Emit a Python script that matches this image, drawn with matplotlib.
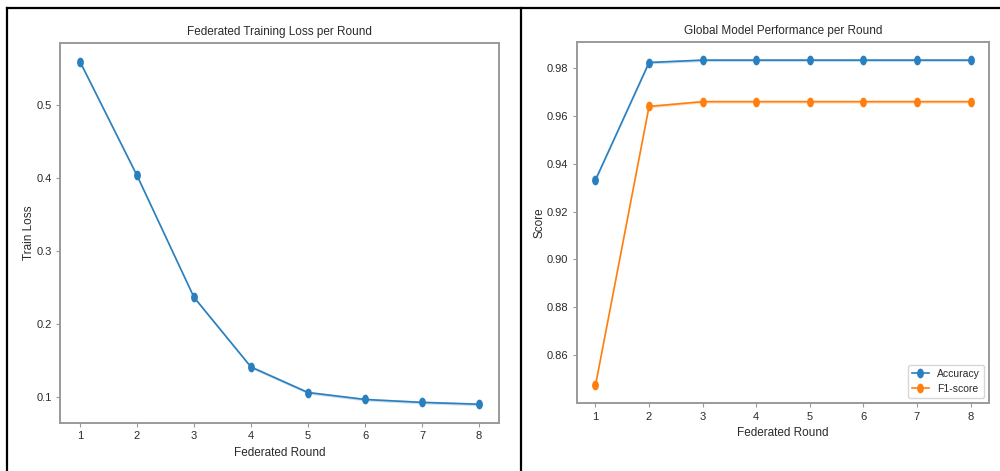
import numpy as np
import matplotlib
matplotlib.use("Agg")
import matplotlib.pyplot as plt
from matplotlib.path import Path
from matplotlib.transforms import Affine2D
from matplotlib.lines import Line2D

plt.rcParams["font.family"] = ["DejaVu Sans Condensed", "Liberation Sans", "DejaVu Sans"]

# data
rounds = [1, 2, 3, 4, 5, 6, 7, 8]
train_loss = [0.559, 0.403, 0.236, 0.1405, 0.1055, 0.096, 0.092, 0.0895]
loss_band = [0.002, 0.002, 0.002, 0.002, 0.002, 0.002, 0.002, 0.002]
accuracy = [0.9333, 0.9825, 0.9835, 0.9835, 0.9835, 0.9835, 0.9835, 0.9835]
acc_band = [0.0006, 0.0006, 0.0006, 0.0006, 0.0006, 0.0006, 0.0006, 0.0006]
f1_score = [0.8472, 0.9641, 0.9661, 0.9661, 0.9661, 0.9661, 0.9661, 0.9661]
f1_band = [0.0006, 0.0006, 0.0006, 0.0006, 0.0006, 0.0006, 0.0006, 0.0006]

blue = "#2a7fbf"
orange = "#ff7f0e"
txt = "#2a2a2a"
spine_c = "#9a9a9a"

# squashed circle marker (the reference is horizontally compressed)
circ = Path.unit_circle()
ell = Affine2D().scale(0.65, 1.0).transform_path(circ)

fig = plt.figure(figsize=(10, 4.71), dpi=100)
ax1 = fig.add_axes([0.060, 0.102, 0.439, 0.807])
ax2 = fig.add_axes([0.5767, 0.1437, 0.4126, 0.7665])


def style(ax):
    for s in ax.spines.values():
        s.set_color(spine_c)
        s.set_linewidth(1.4)
    ax.tick_params(colors=spine_c, labelcolor=txt, labelsize=8, length=3, pad=3)


def draw(ax, y, band, color, label=None):
    y = np.array(y)
    band = np.array(band)
    ax.fill_between(rounds, y - band, y + band, color=color, alpha=0.25, lw=0)
    ax.plot(rounds, y, color=color, lw=1.2, marker=ell, markersize=6, label=label)


draw(ax1, train_loss, loss_band, blue)
style(ax1)
ax1.set_xticks(rounds)
ax1.set_yticks([0.1, 0.2, 0.3, 0.4, 0.5])
ax1.set_title("Federated Training Loss per Round", fontsize=8.5, color=txt, pad=6)
ax1.set_xlabel("Federated Round", fontsize=8.5, color=txt)
ax1.set_ylabel("Train Loss", fontsize=8.5, color=txt, labelpad=1)

draw(ax2, accuracy, acc_band, blue, "Accuracy")
draw(ax2, f1_score, f1_band, orange, "F1-score")
style(ax2)
ax2.set_xticks(rounds)
ax2.set_yticks([0.86, 0.88, 0.90, 0.92, 0.94, 0.96, 0.98])
ax2.set_title("Global Model Performance per Round", fontsize=8.5, color=txt, pad=6)
ax2.set_xlabel("Federated Round", fontsize=8.5, color=txt)
ax2.set_ylabel("Score", fontsize=8.5, color=txt, labelpad=1)
leg = ax2.legend(loc="lower right", fontsize=7.5, labelcolor=txt, handlelength=1.6)
leg.get_frame().set_edgecolor("#cccccc")

# screenshot frame lines
fig.add_artist(Line2D([0.007, 1.0], [0.983, 0.983], color="black", lw=1.6))
fig.add_artist(Line2D([0.007, 0.007], [0.0, 0.983], color="black", lw=1.6))
fig.add_artist(Line2D([0.5205, 0.5205], [0.0, 0.983], color="black", lw=1.6))

fig.savefig("out.png", dpi=100)
